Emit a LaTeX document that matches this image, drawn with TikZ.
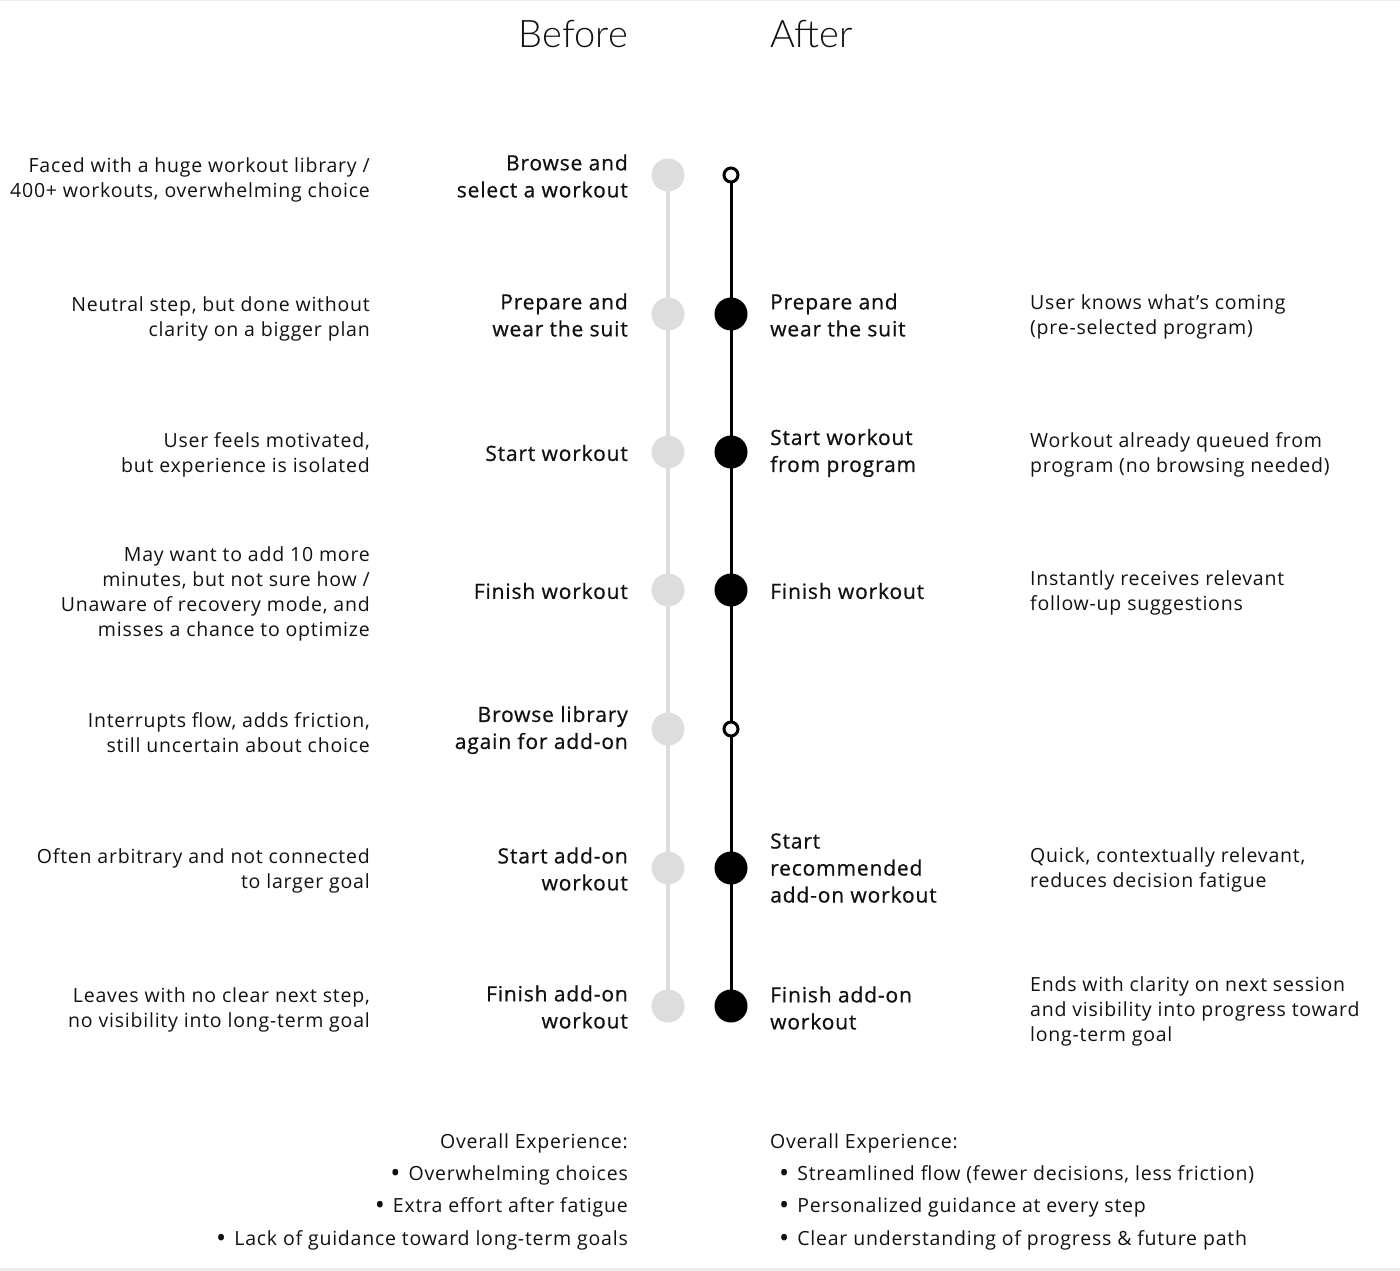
\documentclass[tikz,border=0pt]{standalone}
\usepackage{fontspec}
\setmainfont{Open Sans}[LetterSpace=4]
\newfontfamily\medfont{Open Sans}[FakeBold=0.7,LetterSpace=4]
\newfontfamily\lightfont{Lato Light}
\newcommand{\mybul}{\raisebox{-2pt}{\fontsize{27}{25}\selectfont\textbullet}}
\definecolor{railgray}{HTML}{DDDDDD}
\definecolor{txt}{HTML}{111111}
\definecolor{framegray}{HTML}{EEEEEE}
\begin{document}
\begin{tikzpicture}[x=1pt,y=-1pt,
  desc/.style={font=\fontsize{19.5}{25}\selectfont, text=txt, inner sep=0pt},
  descL/.style={desc, align=right, anchor=east},
  descR/.style={desc, align=left, anchor=west},
  stepbase/.style={font=\medfont\fontsize{21}{27}\selectfont, text=txt, inner sep=0pt},
  stepL/.style={stepbase, align=right, anchor=east},
  stepR/.style={stepbase, align=left, anchor=west},
  title/.style={font=\lightfont\fontsize{38}{40}\selectfont, text=txt, inner sep=0pt},
  graydot/.style={circle, fill=railgray, minimum size=33pt, inner sep=0pt},
  blackdot/.style={circle, fill=black, minimum size=33pt, inner sep=0pt},
  opendot/.style={circle, draw=black, line width=3pt, fill=white, minimum size=14pt, inner sep=0pt},
  grayrail/.style={draw=railgray, line width=4pt},
  blackrail/.style={draw=black, line width=3pt},
  sum/.style={font=\fontsize{19.5}{25}\selectfont, text=txt, inner sep=0pt}
]
\useasboundingbox (0,0) rectangle (1400,1271);
\draw[framegray, line width=1.5pt] (0,0.75) -- (1400,0.75);
\draw[framegray, line width=3pt] (0,1269.5) -- (1400,1269.5);

% titles
\node[title, anchor=east] (tb) at (628,34) {Before};
\node[title, anchor=west] (ta) at (770,34) {After};

% rails
\coordinate (g1) at (668,175);
\coordinate (g7) at (668,1006);
\coordinate (b1) at (731,175);
\coordinate (b7) at (731,1006);
\draw[grayrail] (g1) -- (g7);
\draw[blackrail] (b1) -- (b7);

% gray dots
\foreach \i/\y in {1/175,2/314,3/452,4/590,5/729,6/868,7/1006}{
  \node[graydot] (gd\i) at (668,\y) {};
}
% black dots
\node[opendot] (bd1) at (731,175) {};
\node[blackdot] (bd2) at (731,314) {};
\node[blackdot] (bd3) at (731,452) {};
\node[blackdot] (bd4) at (731,590) {};
\node[opendot] (bd5) at (731,729) {};
\node[blackdot] (bd6) at (731,868) {};
\node[blackdot] (bd7) at (731,1006) {};

% before steps
\node[stepL] (s1) at (628,176) {Browse and\\select a workout};
\node[stepL] (s2) at (628,315) {Prepare and\\wear the suit};
\node[stepL] (s3) at (628,453) {Start workout};
\node[stepL] (s4) at (628,591) {Finish workout};
\node[stepL] (s5) at (628,730) {Browse library\\again for add-on};
\node[stepL] (s6) at (628,869) {Start add-on\\workout};
\node[stepL] (s7) at (628,1007) {Finish add-on\\workout};

% before descriptions
\node[descL] (d1) at (370,180) {Faced with a huge workout library /\\400+ workouts, overwhelming choice};
\node[descL] (d2) at (370,319) {Neutral step, but done without\\clarity on a bigger plan};
\node[descL] (d3) at (370,455) {User feels motivated,\\but experience is isolated};
\node[descL] (d4) at (370,594) {May want to add 10 more\\minutes, but not sure how /\\Unaware of recovery mode, and\\misses a chance to optimize};
\node[descL] (d5) at (370,733) {Interrupts flow, adds friction,\\still uncertain about choice};
\node[descL] (d6) at (370,871) {Often arbitrary and not connected\\to larger goal};
\node[descL] (d7) at (370,1010) {Leaves with no clear next step,\\no visibility into long-term goal};

% after steps
\node[stepR] (a2) at (770,315) {Prepare and\\wear the suit};
\node[stepR] (a3) at (770,453) {Start workout\\from program};
\node[stepR] (a4) at (770,591) {Finish workout};
\node[stepR] (a6) at (770,868) {Start\\recommended\\add-on workout};
\node[stepR] (a7) at (770,1008) {Finish add-on\\workout};

% after descriptions
\node[descR] (r2) at (1030,317) {User knows what’s coming\\(pre-selected program)};
\node[descR] (r3) at (1030,455) {Workout already queued from\\program (no browsing needed)};
\node[descR] (r4) at (1030,593) {Instantly receives relevant\\follow-up suggestions};
\node[descR] (r6) at (1030,870) {Quick, contextually relevant,\\reduces decision fatigue};
\node[descR] (r7) at (1030,1011) {Ends with clarity on next session\\and visibility into progress toward\\long-term goal};

% summaries
\node[sum, anchor=east] (ob) at (628,1143) {Overall Experience:};
\node[sum, anchor=east] (ob1) at (628,1175) {\mybul\hspace{8pt}Overwhelming choices};
\node[sum, anchor=east] (ob2) at (628,1207) {\mybul\hspace{8pt}Extra effort after fatigue};
\node[sum, anchor=east] (ob3) at (628,1240) {\mybul\hspace{8pt}Lack of guidance toward long-term goals};

\node[sum, anchor=west] (oa) at (770,1143) {Overall Experience:};
\node[sum, anchor=west] (oa1) at (779,1175) {\mybul\hspace{8pt}Streamlined flow (fewer decisions, less friction)};
\node[sum, anchor=west] (oa2) at (779,1207) {\mybul\hspace{8pt}Personalized guidance at every step};
\node[sum, anchor=west] (oa3) at (779,1240) {\mybul\hspace{8pt}Clear understanding of progress \& future path};
\end{tikzpicture}
\end{document}
